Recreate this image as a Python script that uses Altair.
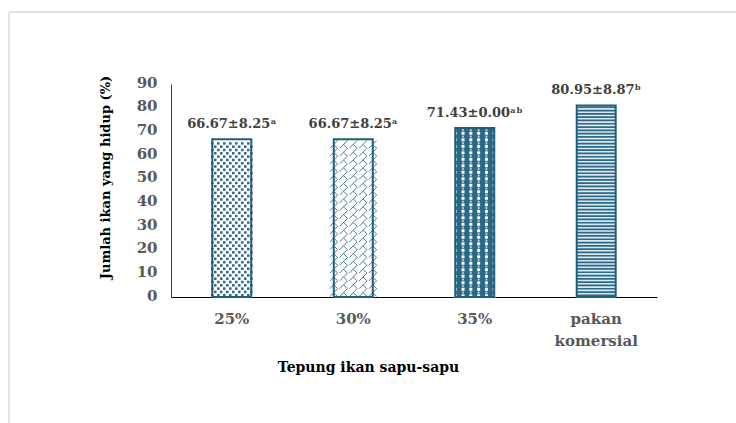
import altair as alt
import pandas as pd
import numpy as np

# ---- data ----
categories = ["25%", "30%", "35%", "pakan komersial"]
means = [66.67, 66.67, 71.43, 80.95]
sds = [8.25, 8.25, 0.00, 8.87]
letters = ["a", "a", "ab", "b"]
y_ticks = [0, 10, 20, 30, 40, 50, 60, 70, 80, 90]

SUP = {"a": "\u1d43", "b": "\u1d47"}
labels = [f"{m:.2f}\u00b1{s:.2f}" + "".join(SUP[c] for c in l)
          for m, s, l in zip(means, sds, letters)]

bars = pd.DataFrame({"cat": categories, "value": means, "label": labels})

# ---- geometry of the plot area ----
W, H = 486, 213
YMAX = 90
PX = YMAX / H  # data units per pixel

TEAL = "#1f5d7b"
PAT = "#34698a"

# ---- fill textures (pattern elements placed through the scales) ----
def dots_df(cat, value):
    rows = []
    r = 0
    while True:
        y = (1.8 + r * 3.3) * PX
        if y > value - 1.6 * PX:
            break
        for k in range(7):
            rows.append({"cat": cat, "col": 2 * k + (r % 2), "y": y})
        r += 1
    return pd.DataFrame(rows)

def lattice_df(cat, value):
    rows = []
    r = 0
    t = 39 / 5
    while True:
        y = (t / 2 + 0.5 + r * t) * PX
        if y + (t / 2) * PX > value - 0.5 * PX:
            break
        for k in range(5):
            rows.append({"cat": cat, "col": k, "y": y})
        r += 1
    return pd.DataFrame(rows)

def sphere_df(cat, value):
    rows = []
    r = 0
    s = 39 / 12
    while True:
        y = (1.2 + r * s) * PX
        if y > value - 1.2 * PX:
            break
        for k in range(6):
            col = 2 * k + (r % 2)
            rows.append({"cat": cat, "col": col, "y": y,
                         "kind": "sq" if r % 2 == 0 else "hl"})
        r += 1
    return pd.DataFrame(rows)

def stripes_df(cat, value):
    rows = []
    r = 0
    while True:
        y0 = (0.8 + r * 3.3) * PX
        y1 = y0 + 1.7 * PX
        if y1 > value - 0.8 * PX:
            break
        rows.append({"cat": cat, "y0": y0, "y1": y1})
        r += 1
    return pd.DataFrame(rows)

d_dots = dots_df(categories[0], means[0])
d_lat = lattice_df(categories[1], means[1])
d_sph = sphere_df(categories[2], means[2])
d_str = stripes_df(categories[3], means[3])

FONT = "DejaVu Serif"

x_scale = alt.Scale(domain=categories, paddingInner=0.679, paddingOuter=0.34)
y_scale = alt.Scale(domain=[0, YMAX], nice=False, zero=True)

x_axis = alt.Axis(
    title="Tepung ikan sapu-sapu", labelAngle=0, ticks=False, tickSize=0,
    domainColor="#000000", domainWidth=1,
    labelFont=FONT, labelFontWeight="bold", labelFontSize=15, labelColor="#595959",
    labelPadding=14, labelBaseline="top", labelLineHeight=22,
    labelExpr="datum.value == 'pakan komersial' ? ['pakan', 'komersial'] : datum.label",
    titleFont=FONT, titleFontWeight="bold", titleFontSize=14, titleColor="#000000",
    titleX=197, titleY=70, titleAlign="center", titleBaseline="middle",
)
y_axis = alt.Axis(
    values=y_ticks, title="Jumlah ikan yang hidup (%)", ticks=False, tickSize=0, grid=False,
    domainColor="#404040", domainWidth=1,
    labelFont=FONT, labelFontWeight="bold", labelFontSize=15, labelColor="#595959",
    labelPadding=14, labelOffset=-2,
    titleFont=FONT, titleFontWeight="bold", titleFontSize=13, titleColor="#000000",
    titleX=-66, titleY=93, titleAngle=270, titleAlign="center", titleBaseline="middle",
)

def X():
    return alt.X("cat:N", scale=x_scale, axis=x_axis, sort=categories)

def Y(field):
    return alt.Y(field, scale=y_scale, axis=y_axis)

off_scale = alt.Scale(paddingInner=0, paddingOuter=0)

base = alt.Chart(bars).mark_bar().encode(
    x=X(), y=Y("value:Q"),
    color=alt.Color("cat:N", scale=alt.Scale(domain=categories,
                    range=["#ffffff", "#ffffff", "#2a6886", "#dce9f1"]), legend=None),
)

dots = alt.Chart(d_dots).mark_square(size=6.5, color=PAT, opacity=1).encode(
    x=X(), xOffset=alt.XOffset("col:O", scale=off_scale), y=Y("y:Q"))

lattice = alt.Chart(d_lat).mark_point(
    shape="M-1,1L1,-1M0,0L1,1", size=61, filled=False, color="#4a7c99",
    strokeWidth=1, opacity=1).encode(
    x=X(), xOffset=alt.XOffset("col:O", scale=off_scale), y=Y("y:Q"))

sph_sq = alt.Chart(d_sph).transform_filter("datum.kind == 'sq'").mark_square(
    size=9, color="#ffffff", opacity=1).encode(
    x=X(), xOffset=alt.XOffset("col:O", scale=off_scale), y=Y("y:Q"))
sph_hl = alt.Chart(d_sph).transform_filter("datum.kind == 'hl'").mark_circle(
    size=5, color="#b9d2e0", opacity=1).encode(
    x=X(), xOffset=alt.XOffset("col:O", scale=off_scale), y=Y("y:Q"))

stripes = alt.Chart(d_str).mark_bar(color="#2b6989").encode(
    x=X(), y=Y("y0:Q"), y2="y1:Q")

outline = alt.Chart(bars).mark_bar(fillOpacity=0, stroke=TEAL, strokeWidth=2).encode(
    x=X(), y=Y("value:Q"))

text = alt.Chart(bars).mark_text(
    dy=-11, baseline="alphabetic", font=FONT, fontWeight="bold", fontSize=13,
    color="#404040").encode(x=X(), y=Y("value:Q"), text="label:N")

one = pd.DataFrame({"k": [0]})
frame_top = alt.Chart(one).mark_rule(color="#d9d9d9", strokeWidth=1.5).encode(
    x=alt.value(-162), x2=alt.value(565), y=alt.value(-72))
frame_left = alt.Chart(one).mark_rule(color="#d9d9d9", strokeWidth=1.5).encode(
    x=alt.value(-162), y=alt.value(-72), y2=alt.value(340))

chart = alt.layer(
    base, dots, lattice, sph_sq, sph_hl, stripes, outline, text, frame_top, frame_left
).resolve_scale(xOffset="independent").properties(
    width=W, height=H,
    autosize=alt.AutoSizeParams(type="none"),
    padding={"left": 171, "top": 84, "right": 79, "bottom": 126},
    background="#ffffff",
).configure_view(stroke=None)

chart.save("out.html", embed_options={"renderer": "svg", "actions": False})
